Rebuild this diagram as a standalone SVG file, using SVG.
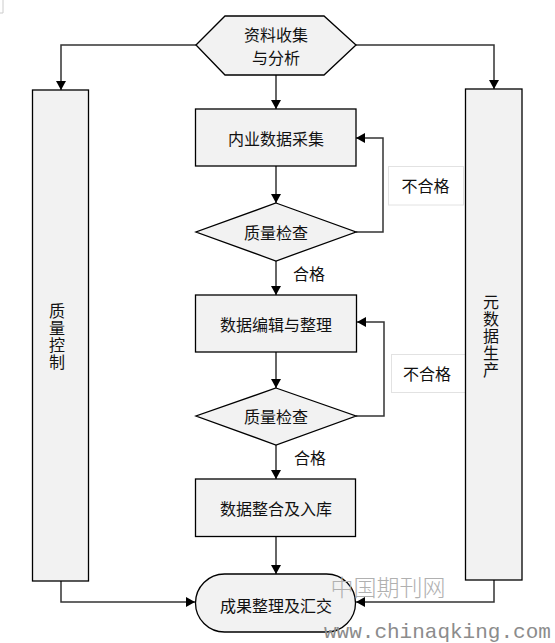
<svg xmlns="http://www.w3.org/2000/svg" width="555" height="643" viewBox="0 0 555 643">
<style>
.n{fill:#f2f2f2;stroke:#000;stroke-width:1.3}
.t{font-family:"Noto Sans CJK SC","Noto Sans",sans-serif;font-size:16px;fill:#111;text-anchor:middle;dominant-baseline:central}
.v{font-family:"Noto Sans CJK SC","Noto Sans",sans-serif;font-size:16px;fill:#111;text-anchor:middle;writing-mode:vertical-rl;letter-spacing:1px}
.c{fill:none;stroke:#333;stroke-width:1.5}
.lb{fill:#fff;stroke:#e2e2e2;stroke-width:1}
</style>
<defs>
<marker id="ah" markerWidth="10" markerHeight="10" refX="9" refY="5" orient="auto" markerUnits="userSpaceOnUse">
<path d="M0,0 L9,5 L0,10 z" fill="#000"/>
</marker>
</defs>
<rect width="555" height="643" fill="#fff"/>
<path d="M3,0 V13 H0" fill="none" stroke="#ccc" stroke-width="1"/>
<g id="labels">
<rect class="lb" x="388.5" y="166.5" width="75" height="38.5"/>
<rect class="lb" x="391.5" y="354.5" width="75" height="38"/>
<text class="t" x="425.5" y="184.5">不合格</text>
<text class="t" x="427" y="372.5">不合格</text>
<text class="t" x="309" y="273">合格</text>
<text class="t" x="310" y="457">合格</text>
</g>
<g id="connectors">
<path class="c" d="M196,45 H61 V90" marker-end="url(#ah)"/>
<path class="c" d="M356,45 H494 V89" marker-end="url(#ah)"/>
<path class="c" d="M276,75 V109" marker-end="url(#ah)"/>
<path class="c" d="M276,166 V203" marker-end="url(#ah)"/>
<path class="c" d="M356,232 H383 V138 H356" marker-end="url(#ah)"/>
<path class="c" d="M276,261 V295" marker-end="url(#ah)"/>
<path class="c" d="M276,352 V388" marker-end="url(#ah)"/>
<path class="c" d="M356,416 H384 V322 H357" marker-end="url(#ah)"/>
<path class="c" d="M276,445 V479" marker-end="url(#ah)"/>
<path class="c" d="M276,537 V574" marker-end="url(#ah)"/>
<path class="c" d="M61,581 V602 H195" marker-end="url(#ah)"/>
<path class="c" d="M494,580 V602 H356" marker-end="url(#ah)"/>
</g>
<g id="start">
<polygon class="n" points="196,45 225,16 324,16 356,45 324,75 225,75"/>
<text class="t" x="276" y="34">资料收集</text>
<text class="t" x="276" y="57">与分析</text>
</g>
<g id="qc">
<rect class="n" x="32.5" y="90" width="56" height="491"/>
<text class="v" x="57" y="337">质量控制</text>
</g>
<g id="meta">
<rect class="n" x="465.5" y="89" width="56.5" height="491"/>
<text class="v" x="491" y="336">元数据生产</text>
</g>
<g id="collect">
<rect class="n" x="195.5" y="109" width="160.5" height="57"/>
<text class="t" x="276" y="138">内业数据采集</text>
</g>
<g id="check1">
<polygon class="n" points="276,203 356,232 276,261 196,232"/>
<text class="t" x="276" y="232">质量检查</text>
</g>
<g id="edit">
<rect class="n" x="195.5" y="295" width="161" height="57"/>
<text class="t" x="276" y="324">数据编辑与整理</text>
</g>
<g id="check2">
<polygon class="n" points="276,388 356,416 276,445 196,416"/>
<text class="t" x="276" y="416">质量检查</text>
</g>
<g id="store">
<rect class="n" x="195.5" y="479" width="160" height="57.5"/>
<text class="t" x="276" y="508">数据整合及入库</text>
</g>
<g id="result">
<rect class="n" x="195.5" y="574" width="160" height="58" rx="29" ry="29"/>
<text class="t" x="276" y="605">成果整理及汇交</text>
</g>
<g id="watermark">
<text x="388" y="586" font-family="Noto Sans CJK SC,sans-serif" font-size="23" font-weight="300" fill="#b0b0b0" text-anchor="middle" dominant-baseline="central">中国期刊网</text>
<text x="324" y="638" font-family="Liberation Mono,monospace" font-size="21" fill="#8c8c8c">www.chinaqking.com</text>
</g>
</svg>
